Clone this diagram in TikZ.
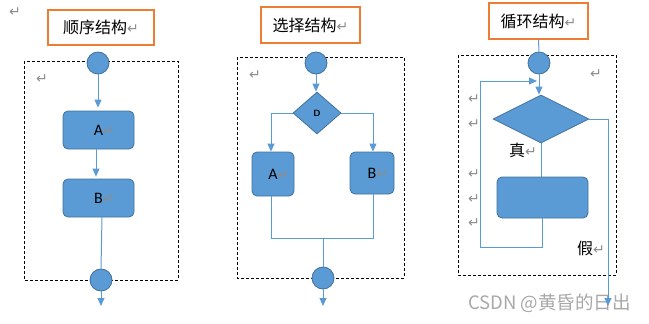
\documentclass[tikz,border=0pt]{standalone}
\usepackage{fontspec}
\setmainfont{Carlito}
\newfontfamily\cjk{Noto Sans CJK SC}
\newfontfamily\dejavu{DejaVu Sans}
\usetikzlibrary{shapes.geometric,arrows.meta}
\definecolor{fillblue}{HTML}{5B9BD5}
\definecolor{edgeblue}{HTML}{41719C}
\definecolor{lineblue}{HTML}{5B9BD5}
\definecolor{titleorange}{HTML}{ED7D31}
\definecolor{retgray}{HTML}{8C8C8C}
\definecolor{wmgray}{HTML}{A8A8A8}
\newcommand{\ret}{{\dejavu\fontsize{14}{14}\selectfont\color{retgray}↵}}
\begin{document}
\begin{tikzpicture}[x=1pt,y=-1pt,
  titlebox/.style={draw=titleorange, line width=1.3pt, fill=white, inner sep=0pt,
    font=\cjk\fontsize{16}{16}\selectfont},
  startc/.style={circle, fill=fillblue, draw=edgeblue, line width=0.8pt, minimum size=22pt, inner sep=0pt},
  block/.style={rectangle, rounded corners=5pt, fill=fillblue, draw=edgeblue, line width=0.8pt,
    inner sep=0pt, font=\fontsize{16}{16}\selectfont},
  decide/.style={diamond, fill=fillblue, draw=edgeblue, line width=0.8pt, inner sep=0pt},
  dashbox/.style={draw=black, line width=0.7pt, dash pattern=on 3pt off 2pt},
  conn/.style={draw=lineblue, line width=1pt},
  arr/.style={conn, -{Triangle[length=8pt,width=7pt]}},
  retmark/.style={inner sep=0pt, font=\dejavu\fontsize{14}{14}\selectfont, text=retgray},
  labeltext/.style={inner sep=0pt, anchor=west, font=\cjk\fontsize{16}{16}\selectfont}
]
\useasboundingbox (0,0) rectangle (649,324);

% watermark
\node[inner sep=0pt, font=\cjk\fontsize{18.5}{18.5}\selectfont, text=wmgray] (wm) at (549.5,303) {CSDN @黄昏的日出};

% ---------- Panel 1: sequence ----------
\node[retmark] (r1a) at (15,12) {↵};
\node[titlebox, minimum width=106pt, minimum height=35pt] (t1) at (101,27.5) {顺序结构\ret};
\draw[dashbox] (24,61) rectangle (178,280);
\node[retmark] (r1b) at (42,79) {↵};
\node[startc] (s1) at (98,63) {};
\node[block, minimum width=71pt, minimum height=38pt] (a1) at (98.5,130) {A\rlap{\ret}};
\node[block, minimum width=71pt, minimum height=38pt] (b1) at (98.5,198) {B\rlap{\ret}};
\node[startc] (e1) at (101,280) {};
\coordinate (o1) at (101,306);
\draw[arr, shorten >=3pt] (s1.south) -- (s1.south |- a1.north);
\draw[arr, shorten >=2pt] ([xshift=-2.5pt]a1.south) -- ([xshift=-2.5pt]b1.north);
\draw[conn] ([xshift=3.5pt]b1.south) -- (e1.north);
\draw[arr] (e1.south) -- (o1);

% ---------- Panel 2: selection ----------
\node[titlebox, minimum width=99pt, minimum height=36pt] (t2) at (310.5,25) {选择结构\ret};
\draw[dashbox] (237,57) rectangle (404,278);
\node[retmark] (r2a) at (255,75) {↵};
\node[startc] (s2) at (316,63) {};
\node[decide, minimum width=48pt, minimum height=42pt, font=\sffamily\bfseries\fontsize{9}{9}\selectfont] (d2) at (317,113) {D};
\node[block, minimum width=42pt, minimum height=44pt] (a2) at (273,174) {A\rlap{\ret}};
\node[block, minimum width=44pt, minimum height=42pt] (b2) at (372,173) {B\rlap{\ret}};
\coordinate (j2) at (323,238);
\node[startc] (e2) at (323,278) {};
\coordinate (o2) at (323,306);
\draw[arr] (s2.south) -- (s2.south |- d2.north);
\draw[arr] (d2.west) -| ([xshift=-2pt]a2.north);
\draw[arr] (d2.east) -| ([xshift=1pt]b2.north);
\draw[conn] ([xshift=-2pt]a2.south) |- (j2);
\draw[conn] ([xshift=1pt]b2.south) |- (j2);
\draw[conn] (j2) -- (e2.north);
\draw[arr] (e2.south) -- (o2);

% ---------- Panel 3: loop ----------
\node[titlebox, minimum width=99pt, minimum height=36pt] (t3) at (538.5,21) {循环结构\ret};
\draw[dashbox] (458,55) rectangle (616,275);
\node[retmark] (r3a) at (596,74) {↵};
\node[retmark] (r3b) at (474,99) {↵};
\node[retmark] (r3c) at (474,124) {↵};
\node[retmark] (r3d) at (474,174) {↵};
\node[retmark] (r3e) at (474,199) {↵};
\node[retmark] (r3f) at (474,223) {↵};
\node[startc] (s3) at (539,63) {};
\node[decide, minimum width=96pt, minimum height=48pt] (d3) at (541,119) {};
\node[block, minimum width=91pt, minimum height=41pt] (r3) at (542.5,197.5) {};
\node[labeltext] (tt) at (509,150) {真\ret};
\node[labeltext] (ff) at (577,248) {假\ret};
\coordinate (l3b) at (480,247);
\coordinate (l3d) at (537,81);
\coordinate (f3) at (608,306);
\draw[conn] (t3.south) -- (s3.north);
\draw[arr] (s3.south) -- (s3.south |- d3.north);
\draw[conn] (d3.south) -- (d3.south |- r3.north);
\draw[arr] (r3.south) |- (l3b) |- (l3d);
\draw[arr] (d3.east) -| (f3);
\end{tikzpicture}
\end{document}
